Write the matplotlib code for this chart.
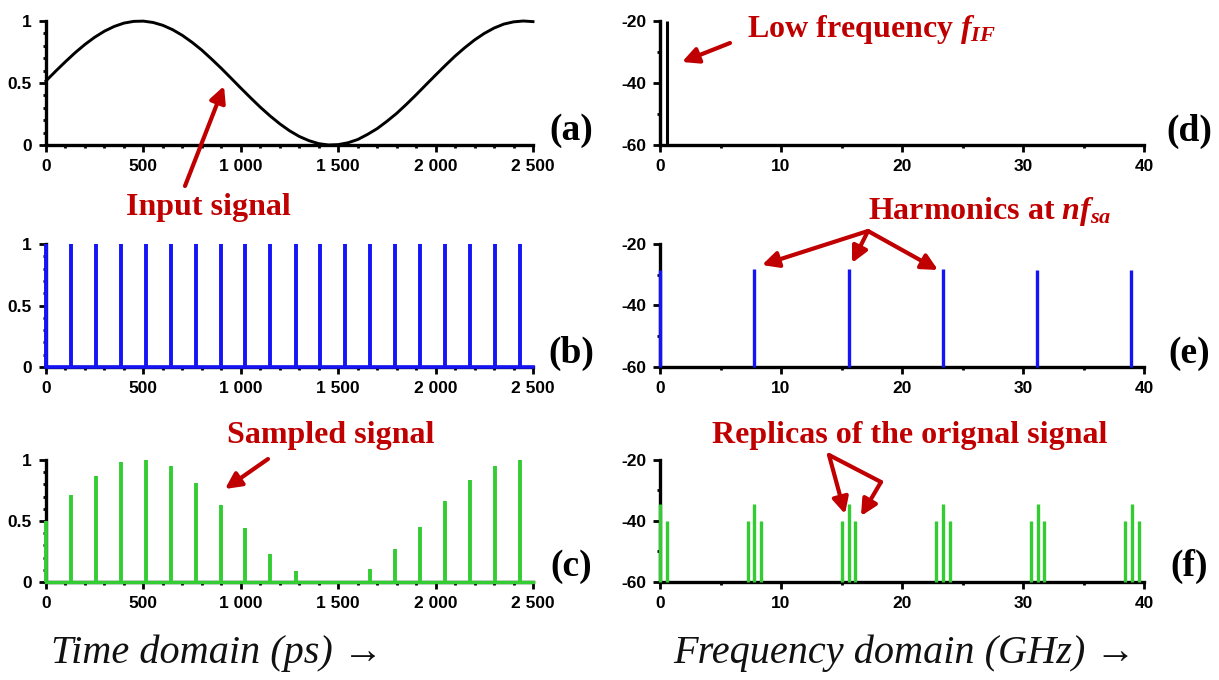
import numpy as np
import matplotlib
matplotlib.use("Agg")
import matplotlib.pyplot as plt

plt.rcParams['font.family'] = ['Liberation Sans', 'DejaVu Sans']
plt.rcParams['mathtext.fontset'] = 'custom'
plt.rcParams['mathtext.it'] = 'Liberation Serif:italic:bold'
plt.rcParams['mathtext.rm'] = 'Liberation Serif:bold'

# ---- data ----
# (a) input signal, sampled every 50 ps
t_input = np.arange(0, 2501, 50)
v_input = [0.517, 0.596, 0.672, 0.745, 0.811, 0.869, 0.918, 0.956, 0.983, 0.997,
           0.999, 0.988, 0.965, 0.930, 0.884, 0.828, 0.765, 0.693, 0.618, 0.539,
           0.459, 0.381, 0.305, 0.235, 0.171, 0.115, 0.069, 0.035, 0.011, 0.000,
           0.003, 0.018, 0.044, 0.085, 0.132, 0.191, 0.255, 0.328, 0.405, 0.485,
           0.564, 0.642, 0.717, 0.785, 0.847, 0.900, 0.943, 0.975, 0.993, 1.000,
           0.995]

# (b) sampling pulses and (c) sampled signal
t_pulse = [0, 127, 255, 383, 511, 640, 768, 896, 1024, 1152, 1281, 1409, 1537,
           1665, 1793, 1922, 2050, 2178, 2306, 2434]
h_clock = [1.0] * len(t_pulse)
h_sampled = [0.50, 0.71, 0.87, 0.98, 1.00, 0.95, 0.81, 0.63, 0.44, 0.23, 0.09,
             0.01, 0.01, 0.11, 0.27, 0.45, 0.66, 0.84, 0.95, 1.00]

# (d) spectrum of the input
f_input = [0, 0.58]
p_input = [-20, -20]

# (e) spectrum of the sampling clock
f_clock = [0, 7.8, 15.6, 23.35, 31.15, 38.95]
p_clock = [-28.6, -28.1, -28.1, -28.1, -28.6, -28.6]

# (f) spectrum of the sampled signal
f_sampled = [0, 0.55, 7.25, 7.8, 8.35, 15.05, 15.6, 16.15, 22.85, 23.4, 23.95,
             30.65, 31.2, 31.75, 38.45, 39.0, 39.55]
p_sampled = [-34.5, -40, -40, -34.5, -40, -40, -34.5, -40, -40, -34.5, -40,
             -40, -34.5, -40, -40, -34.5, -40]

time_ticks = [0, 500, 1000, 1500, 2000, 2500]
time_labels = ['0', '500', '1 000', '1 500', '2 000', '2 500']
freq_ticks = [0, 10, 20, 30, 40]
freq_labels = ['0', '10', '20', '30', '40']
amp_ticks = [0, 0.5, 1]
amp_labels = ['0', '0.5', '1']
db_ticks = [-60, -40, -20]
db_labels = ['-60', '-40', '-20']

RED = '#c00000'
BLUE = '#1414f5'
GREEN = '#33cc33'

W, H = 1219, 680


def fx(px):
    return px / W


def fy(py):
    return 1 - py / H


def style_time(ax):
    ax.set_xlim(0, 2500)
    ax.set_ylim(0, 1)
    ax.set_xticks(time_ticks)
    ax.set_xticklabels(time_labels)
    ax.set_xticks(np.arange(0, 2501, 100), minor=True)
    ax.set_yticks(amp_ticks)
    ax.set_yticklabels(amp_labels)
    ax.set_yticks(np.arange(0, 1.01, 0.1), minor=True)
    finish(ax)


def style_freq(ax):
    ax.set_xlim(0, 40)
    ax.set_ylim(-60, -20)
    ax.set_xticks(freq_ticks)
    ax.set_xticklabels(freq_labels)
    ax.set_xticks(np.arange(0, 41, 5), minor=True)
    ax.set_yticks(db_ticks)
    ax.set_yticklabels(db_labels)
    ax.set_yticks(np.arange(-60, -19, 10), minor=True)
    finish(ax)


def finish(ax):
    for s in ['top', 'right']:
        ax.spines[s].set_visible(False)
    for s in ['left', 'bottom']:
        ax.spines[s].set_linewidth(2.4)
    ax.tick_params(which='major', direction='out', length=5, width=2,
                   labelsize=12.5, pad=5)
    ax.tick_params(which='minor', direction='out', length=2.5, width=2)
    for lbl in ax.get_xticklabels() + ax.get_yticklabels():
        lbl.set_fontweight('bold')


fig = plt.figure(figsize=(12.19, 6.8), dpi=100)

lx, lw = fx(46), 487 / W
rx, rw = fx(660), 484 / W
rows = [(145, 124), (367, 123), (582, 122)]

axes = {}
for key, (x0, w0) in zip(['left', 'right'], [(lx, lw), (rx, rw)]):
    for i, (bot, h) in enumerate(rows):
        axes[(key, i)] = fig.add_axes([x0, fy(bot), w0, h / H])

# (a)
ax = axes[('left', 0)]
ax.plot(t_input, v_input, color='black', lw=2.1, clip_on=False, zorder=3)
style_time(ax)

# (b)
ax = axes[('left', 1)]
ax.axhline(0, color=BLUE, lw=2.6, zorder=3, clip_on=False)
ax.vlines(t_pulse, 0, h_clock, color=BLUE, lw=2.8, zorder=3, clip_on=False)
style_time(ax)

# (c)
ax = axes[('left', 2)]
ax.axhline(0, color=GREEN, lw=2.4, zorder=3, clip_on=False)
ax.vlines(t_pulse, 0, h_sampled, color=GREEN, lw=2.8, zorder=3, clip_on=False)
style_time(ax)

# (d)
ax = axes[('right', 0)]
ax.vlines(f_input, -60, p_input, color='black', lw=2.2, zorder=3, clip_on=False)
style_freq(ax)

# (e)
ax = axes[('right', 1)]
ax.vlines(f_clock, -60, p_clock, color=BLUE, lw=2.4, zorder=3, clip_on=False)
style_freq(ax)

# (f)
ax = axes[('right', 2)]
ax.vlines(f_sampled, -60, p_sampled, color=GREEN, lw=2.4, zorder=3, clip_on=False)
style_freq(ax)

# panel letters
serif_bold = dict(family='Liberation Serif', weight='bold')
for lab, px, py in [('(a)', 571, 131), ('(b)', 571, 353), ('(c)', 571, 566),
                    ('(d)', 1189, 131), ('(e)', 1189, 353), ('(f)', 1189, 566)]:
    fig.text(fx(px), fy(py), lab, fontsize=27, ha='center', va='center', **serif_bold)

# red annotations
red_text = dict(fontsize=23, color=RED, ha='center', va='center', **serif_bold)
fig.text(fx(208), fy(208), 'Input signal', **red_text)
fig.text(fx(331), fy(436), 'Sampled signal', **red_text)
fig.text(fx(872), fy(30), r'Low frequency $f_{IF}$', **red_text)
fig.text(fx(990), fy(212), r'Harmonics at $nf_{sa}$', **red_text)
fig.text(fx(910), fy(436), 'Replicas of the orignal signal', **red_text)

arrow = dict(arrowstyle='-|>', color=RED, lw=3, mutation_scale=24,
             shrinkA=0, shrinkB=0)


def red_arrow(tail, tip, props=arrow):
    fig.add_artist(matplotlib.patches.FancyArrowPatch(
        (fx(tail[0]), fy(tail[1])), (fx(tip[0]), fy(tip[1])),
        transform=fig.transFigure, **props))


red_arrow((185, 186), (224, 86))
red_arrow((268, 459), (225, 489))
red_arrow((730, 43), (682, 62))
for tip in [(762, 265), (852, 263), (938, 270)]:
    red_arrow((868, 231), tip)
red_arrow((829, 455), (845, 514))
red_arrow((829, 455), (881, 482), dict(arrowstyle='-', color=RED, lw=3,
                                       shrinkA=0, shrinkB=0))
red_arrow((881, 482), (861, 516))

# domain labels
dom = dict(fontsize=29, family='Liberation Serif', style='italic',
           ha='center', va='center', color='#111111')
fig.text(fx(217), fy(653), 'Time domain (ps) \u2192', **dom)
fig.text(fx(905), fy(653), 'Frequency domain (GHz) \u2192', **dom)

fig.savefig('out.png', dpi=100)
